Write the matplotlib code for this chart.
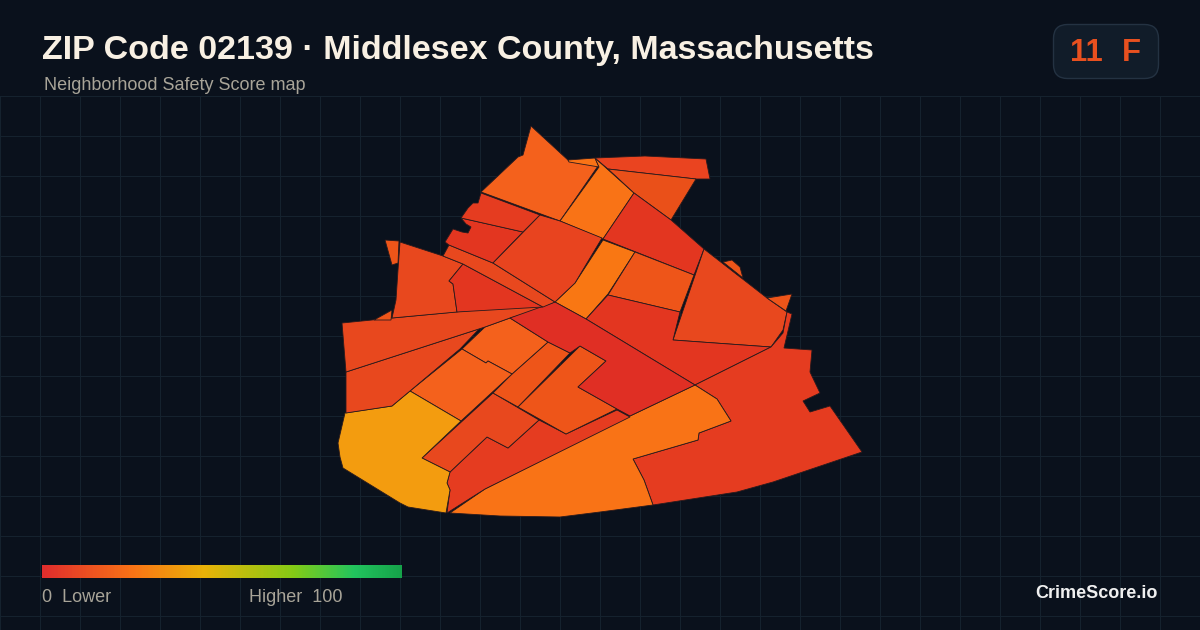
import numpy as np
import matplotlib
matplotlib.use('Agg')
from matplotlib import pyplot as plt
from matplotlib.colors import LinearSegmentedColormap
from matplotlib.patches import FancyBboxPatch, Polygon

# tract outlines in pixels
tract_north = [(531,126),(569,161),(598,166),(560,221),(481,192),(518,157),(523,155)]
tract_north_sliver = [(568,160),(595,158),(599,167),(569,162)]
tract_north_orange = [(595,158),(634,193),(603,239),(560,221),(599,167)]
tract_top_strip = [(595,158),(645,156),(706,159),(710,179),(696,179),(608,169)]
tract_top_wedge = [(608,169),(696,179),(671,220),(634,193)]
tract_ne_red = [(634,193),(671,220),(704,249),(694,275),(603,239)]
tract_center_orange = [(603,240),(635,252),(608,294),(586,319),(555,302),(575,283)]
tract_center_east = [(635,252),(694,275),(680,312),(608,295)]
tract_east = [(704,249),(767,298),(787,312),(783,330),(771,347),(673,340)]
tract_east_nub = [(723,262),(732,260),(740,267),(743,278)]
tract_east_tip = [(767,298),(792,294),(786,311)]
tract_mid_band = [(608,295),(680,312),(673,340),(771,347),(695,385),(586,319)]
tract_far_east = [(695,385),(771,347),(783,333),(787,312),(792,314),(784,348),(812,350),(810,372),
                  (820,393),(803,401),(810,412),(830,406),(862,452),(773,482),(737,492),(653,505),
                  (644,480),(633,459),(698,440),(699,433),(731,421),(717,399)]
tract_south = [(695,385),(717,399),(731,421),(699,433),(698,440),(633,459),(644,480),(653,505),
               (600,512),(560,517),(500,516),(450,513),(485,489),(630,416)]
tract_sw_strip = [(450,472),(487,437),(508,448),(539,420),(566,434),(617,410),(630,417),(485,489),
                  (447,513),(450,490),(447,483)]
tract_sw_block = [(422,458),(493,393),(539,420),(508,448),(487,437),(450,472)]
tract_narrow = [(493,393),(512,374),(548,342),(570,353),(518,407)]
tract_l_shape = [(518,407),(580,346),(606,361),(578,387),(617,409),(566,434)]
tract_block_upper = [(462,349),(485,327),(510,318),(548,342),(512,374),(488,361),(486,363)]
tract_block_left = [(410,391),(462,349),(486,363),(488,361),(512,374),(461,421)]
tract_amber = [(410,391),(461,421),(422,458),(450,472),(447,483),(450,490),(446,513),(408,507),
               (400,503),(343,468),(340,457),(338,443),(345,413),(392,406)]
tract_west_low = [(346,372),(485,327),(480,328),(460,349),(410,391),(392,406),(346,413)]
tract_west_top = [(342,323),(392,318),(540,304),(552,306),(510,318),(485,327),(346,372)]
tract_west_bit = [(374,320),(392,310),(391,320)]
tract_center_red = [(555,302),(586,319),(695,385),(630,416),(617,409),(578,387),(606,361),(580,346),
                    (570,353),(548,342),(510,318)]
tract_nw = [(400,242),(443,256),(463,264),(449,281),(453,284),(457,312),(392,318),(396,300),(398,270)]
tract_nw_sliver = [(385,240),(399,241),(398,263),(392,265)]
tract_nw_red = [(463,264),(543,307),(457,312),(453,284),(449,281)]
tract_nw_band = [(443,256),(449,245),(493,263),(555,302),(543,307),(463,264)]
tract_shore_low = [(445,242),(453,229),(462,232),(468,233),(471,227),(466,224),(461,218),(523,232),
                   (493,263),(449,245)]
tract_shore_up = [(461,218),(468,208),(473,203),(478,203),(481,193),(540,215),(523,232)]
tract_center_nw = [(540,215),(560,221),(602,238),(575,283),(555,302),(493,263)]

tracts = [tract_north, tract_north_sliver, tract_north_orange, tract_top_strip, tract_top_wedge,
          tract_ne_red, tract_center_orange, tract_center_east, tract_east, tract_east_nub,
          tract_east_tip, tract_mid_band, tract_far_east, tract_south, tract_sw_strip,
          tract_sw_block, tract_narrow, tract_l_shape, tract_block_upper, tract_block_left,
          tract_amber, tract_west_low, tract_west_top, tract_west_bit, tract_center_red,
          tract_nw, tract_nw_sliver, tract_nw_red, tract_nw_band, tract_shore_low,
          tract_shore_up, tract_center_nw]
tract_colors = ['#f4611c', '#f97316', '#f97316', '#ea4420', '#ea5019',
                '#e33620', '#f97713', '#ee5519', '#e8481e', '#ee5519',
                '#ee5519', '#e33620', '#e53c20', '#f97316', '#e53c20',
                '#e8481e', '#ee5519', '#ee5519', '#f4611c', '#f4611c',
                '#f39c0f', '#e8481e', '#e8481e', '#ee5519', '#e02f24',
                '#e8481e', '#ee5519', '#e33620', '#e8481e', '#e33620',
                '#e53c20', '#e8441f']

scale_stops = [0.0, 0.25, 0.45, 0.7, 0.87, 1.0]
scale_colors = ['#e02d2d', '#f97316', '#eab308', '#84cc16', '#22c55e', '#16a34a']

BG = '#0a111c'
GRID = '#15222e'


def px(size):
    return size * 0.72


plt.rcParams['font.family'] = ['Liberation Sans', 'DejaVu Sans']

fig = plt.figure(figsize=(12, 6.3), dpi=100, facecolor=BG)
ax = fig.add_axes([0, 0, 1, 1])
ax.set_xlim(0, 1200)
ax.set_ylim(630, 0)
ax.axis('off')

# grid starts under the header
for x in np.arange(0, 1200, 40):
    ax.plot([x, x], [96, 630], color=GRID, lw=0.72, zorder=1)
for y in np.arange(96, 630, 40):
    ax.plot([0, 1200], [y, y], color=GRID, lw=0.72, zorder=1)

for outline, color in zip(tracts, tract_colors):
    ax.add_patch(Polygon(outline, closed=True, facecolor=color, edgecolor='#2a1a1c',
                         lw=0.6, joinstyle='miter', zorder=2))

ax.text(42, 50, 'ZIP Code 02139 · Middlesex County, Massachusetts', color='#f8f0e3',
        fontsize=px(34), fontweight='bold', va='center', ha='left')
ax.text(44, 86, 'Neighborhood Safety Score map', color='#a8a498', fontsize=px(18),
        va='center', ha='left')

ax.add_patch(FancyBboxPatch((1053.5, 24.5), 105, 54, boxstyle='round,pad=0,rounding_size=14',
                            facecolor='#111c29', edgecolor='#243242', lw=1, zorder=2))
ax.text(1070, 53, '11', color='#e8501f', fontsize=px(31), fontweight='bold', va='center', ha='left', zorder=3)
ax.text(1122, 53, 'F', color='#e8501f', fontsize=px(31), fontweight='bold', va='center', ha='left', zorder=3)

scale = LinearSegmentedColormap.from_list('score', list(zip(scale_stops, scale_colors)))
ax.imshow(np.linspace(0, 1, 360).reshape(1, -1), cmap=scale, extent=(42, 402, 578, 565),
          aspect='auto', zorder=2)
ax.set_xlim(0, 1200)
ax.set_ylim(630, 0)

ax.text(42, 597, '0  Lower', color='#a8a498', fontsize=px(18), va='center', ha='left')
ax.text(249, 597, 'Higher  100', color='#a8a498', fontsize=px(18), va='center', ha='left')
ax.text(1158, 593, 'CrimeScore.io', color='#f0f0f0', fontsize=px(18), fontweight='bold',
        va='center', ha='right')

plt.savefig('out.png', dpi=100, facecolor=BG)
